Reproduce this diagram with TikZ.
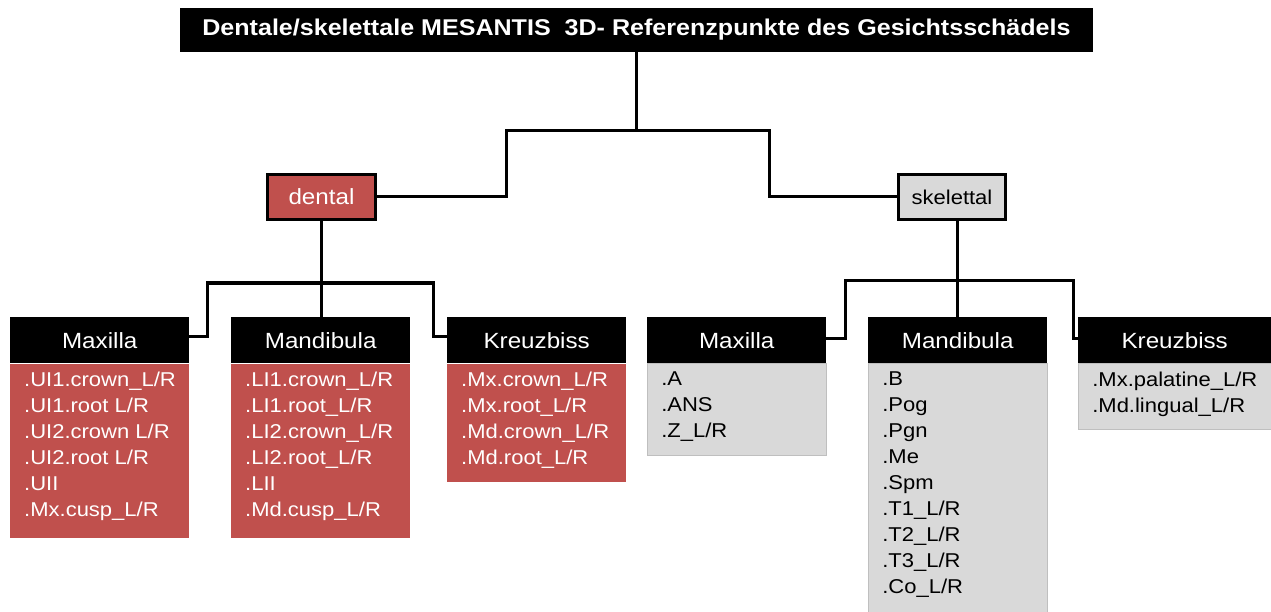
\documentclass[tikz,border=0pt]{standalone}
\usepackage{fontspec}
\setmainfont{Liberation Sans}[FakeStretch=1.1]
\definecolor{dentred}{HTML}{C0504D}
\definecolor{skelgray}{HTML}{D9D9D9}
\newcommand{\ptlist}[3]{\parbox[t][#2][t]{#1}{\raggedright\fontsize{20}{26}\selectfont #3}}

\begin{document}
\begin{tikzpicture}[x=1pt,y=-1pt,
    link/.style={line width=3pt},
    titlebox/.style={fill=black,text=white,font=\fontsize{22.8}{28}\selectfont\bfseries,
        minimum width=913pt,minimum height=44pt,inner sep=0pt},
    groupbox/.style={draw=black,line width=3pt,minimum height=45pt,inner sep=0pt},
    hdr/.style={fill=black,text=white,font=\fontsize{22}{26}\selectfont,
        minimum width=179pt,minimum height=46pt,inner sep=0pt,anchor=north west},
    lst/.style={anchor=north west,inner xsep=14pt,inner ysep=8.5pt},
    redlst/.style={lst,fill=dentred,text=white},
    graylst/.style={lst,fill=skelgray,draw=black!25,line width=0.6pt}]

    \useasboundingbox (0,0) rectangle (1271,612);

    \node[titlebox] (T) at (636.5,30) {Dentale/skelettale MESANTIS~ 3D- Referenzpunkte des Gesichtsschädels};

    \node[groupbox,fill=dentred,text=white,minimum width=108pt,font=\fontsize{22}{26}\selectfont] (D) at (321.5,197) {dental};
    \node[groupbox,fill=skelgray,minimum width=107pt,font=\fontsize{20}{24}\selectfont] (S) at (952,197) {skelettal};

    \coordinate (c1) at (506,131);
    \coordinate (c2) at (769,131);
    \draw[link] (T.south) -- (T.south |- c1);
    \draw[link] (D.east) -| (c1) -- (c2) |- (S.west);

    % dental
    \node[hdr] (LMx) at (10,317) {Maxilla};
    \node[hdr] (LMa) at (231,317) {Mandibula};
    \node[hdr] (LKr) at (447,317) {Kreuzbiss};

    \node[redlst] (LMxL) at (LMx.south west) {\ptlist{151pt}{157pt}{.UI1.crown\_L/R\\.UI1.root L/R\\.UI2.crown L/R\\.UI2.root L/R\\.UII\\.Mx.cusp\_L/R}};
    \node[redlst] (LMaL) at (LMa.south west) {\ptlist{151pt}{157pt}{.LI1.crown\_L/R\\.LI1.root\_L/R\\.LI2.crown\_L/R\\.LI2.root\_L/R\\.LII\\.Md.cusp\_L/R}};
    \node[redlst] (LKrL) at (LKr.south west) {\ptlist{151pt}{101pt}{.Mx.crown\_L/R\\.Mx.root\_L/R\\.Md.crown\_L/R\\.Md.root\_L/R}};

    \coordinate (l1) at (207,283);
    \coordinate (l2) at (433,283);
    \draw[link] (D.south) -- (D.south |- LMa.north);
    \draw[link] ([yshift=4pt]LMx.east) -| (l1) -- (l2) |- ([yshift=4pt]LKr.west);

    % skelettal
    \node[hdr] (RMx) at (647,317) {Maxilla};
    \node[hdr] (RMa) at (868,317) {Mandibula};
    \node[hdr,minimum width=193pt] (RKr) at (1078,317) {Kreuzbiss};

    \node[graylst] (RMxL) at (RMx.south west) {\ptlist{151pt}{75pt}{.A\\.ANS\\.Z\_L/R}};
    \node[graylst] (RMaL) at (RMa.south west) {\ptlist{151pt}{235pt}{.B\\.Pog\\.Pgn\\.Me\\.Spm\\.T1\_L/R\\.T2\_L/R\\.T3\_L/R\\.Co\_L/R}};
    \node[graylst] (RKrL) at (RKr.south west) {\ptlist{165pt}{49pt}{.Mx.palatine\_L/R\\.Md.lingual\_L/R}};

    \coordinate (r1) at (845,281);
    \coordinate (r2) at (1073,281);
    \draw[link] (RMa.north) -- (RMa.north |- S.south);
    \draw[link] ([yshift=2pt]RMx.east) -| (r1) -- (r2) |- ([yshift=2pt]RKr.west);

\end{tikzpicture}
\end{document}
